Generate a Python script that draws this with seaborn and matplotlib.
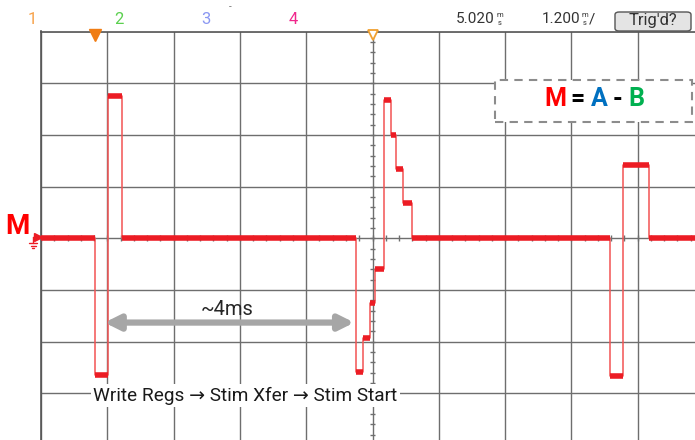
import matplotlib
matplotlib.use("Agg")
import matplotlib.pyplot as plt
import matplotlib.patches as mpatches
import matplotlib.transforms as mtransforms
from matplotlib.lines import Line2D
import seaborn as sns
import pandas as pd

# scope settings
delay_ms = 5.020
ms_per_div = 1.200
n_xdiv, n_ydiv = 10, 8

# trace M = A - B : level (in divisions) held from each time to the next
step_times = [-0.98, 0.00, 0.24, 0.48, 4.73, 4.84, 4.97, 5.07, 5.22, 5.36, 5.45,
              5.58, 5.73, 9.32, 9.55, 10.03, 11.02]
step_levels = [0, -2.65, 2.76, 0, -2.59, -1.92, -1.26, -0.60, 2.67, 1.99, 1.35,
               0.68, 0, -2.67, 1.41, 0, 0]

channel_labels = ["1", "2", "3", "4"]
channel_colors = ["#f7a24a", "#5bd04f", "#8a97f2", "#f0288c"]

span_start, span_end, span_level = 0.17, 4.69, -1.63
span_label = "~4ms"
sequence_label = "Write Regs \u2192 Stim Xfer \u2192 Stim Start"

red = "#ec1c24"
grid_col = "#6e6e6e"
W, H = 695, 440

sns.set_style("white")
plt.rcParams["font.family"] = ["Roboto", "DejaVu Sans"]

fig = plt.figure(figsize=(W / 100, H / 100), dpi=100)

def fx(px):
    return px / W

def fy(py):
    return 1 - py / H

# screen: left edge at 41px, top at 31.5px, 66.3px/div wide, 51.7px/div tall (cropped right/bottom)
ax = fig.add_axes([fx(41), fy(31.5 + n_ydiv * 51.7), n_xdiv * 66.3 / W, n_ydiv * 51.7 / H])
x0 = delay_ms - ms_per_div * n_xdiv / 2
x1 = delay_ms + ms_per_div * n_xdiv / 2
ax.set_xlim(x0, x1)
ax.set_ylim(-n_ydiv / 2, n_ydiv / 2)
ax.set_xticks([x0 + k * ms_per_div for k in range(n_xdiv + 1)])
ax.set_yticks(range(-n_ydiv // 2, n_ydiv // 2 + 1))
ax.grid(True, color=grid_col, lw=1.0)
ax.tick_params(length=0, labelbottom=False, labelleft=False)
for side in ["right", "bottom"]:
    ax.spines[side].set_visible(False)
for side in ["left", "top"]:
    ax.spines[side].set_color("#555555")
    ax.spines[side].set_linewidth(1.2)

# minor ticks on the centre lines
minor_x = [x0 + k * ms_per_div / 5 for k in range(n_xdiv * 5 + 1)]
minor_y = [-n_ydiv / 2 + k * 0.2 for k in range(n_ydiv * 5 + 1)]
ax.vlines(minor_x, -0.06, 0.06, color=grid_col, lw=1.0)
ax.hlines(minor_y, delay_ms - 0.05, delay_ms + 0.05, color=grid_col, lw=1.0)

# trace: thin edges, thick held levels
df = pd.DataFrame({"t": step_times, "level": step_levels})
sns.lineplot(data=df, x="t", y="level", ax=ax, estimator=None, sort=False,
             drawstyle="steps-post", color="#f25454", lw=1.1, zorder=4)
ax.hlines(df["level"][:-1], df["t"][:-1], df["t"][1:], color=red, lw=4.0, zorder=5)

# ~4ms span arrow
ax.annotate("", xy=(span_start, span_level), xytext=(span_end, span_level),
            arrowprops=dict(arrowstyle="<|-|>", color="#a6a6a6", lw=4.5,
                            mutation_scale=22, shrinkA=0, shrinkB=0), zorder=6)
ax.text((span_start + span_end) / 2 - 0.05, span_level + 0.25, span_label,
        ha="center", va="center", fontsize=14.5, color="#262626", zorder=7)

# sequence caption
ax.text(2.72, -3.04, sequence_label, ha="center", va="center", fontsize=13.7,
        color="#1a1a1a", zorder=7,
        bbox=dict(boxstyle="square,pad=0.14", fc="white", ec="none"))

# trigger marker and delay marker on the top border
below = mtransforms.offset_copy(ax.transData, fig=fig, y=-3.5, units="dots")
ax.plot([0.0], [n_ydiv / 2], marker="v", ms=9, color="#f07d14", transform=below,
        clip_on=False, zorder=8)
ax.plot([delay_ms], [n_ydiv / 2], marker="v", ms=7, mfc="white", mec="#f0a030",
        mew=1.3, transform=below, clip_on=False, zorder=8)

# equation box
box = mpatches.Rectangle((fx(495), fy(122)), fx(692) - fx(495), fy(80) - fy(122),
                         transform=fig.transFigure, fc="white", ec="#8c8c8c",
                         lw=1.5, ls=(0, (4, 3)), zorder=10)
fig.add_artist(box)
for txt, col, px in [("M", "#ff0000", 555), ("=", "black", 577), ("A", "#0070c0", 599),
                     ("-", "black", 617), ("B", "#00b050", 636)]:
    fig.text(fx(px), fy(99.5), txt, ha="center", va="center", fontsize=18,
             fontweight="bold", color=col, zorder=11)

# channel label and ground symbol
fig.text(fx(17), fy(227), "M", ha="center", va="center", fontsize=20,
         fontweight="bold", color="#ff0000")
gnd = [([33, 39], [237, 237]), ([33, 33], [237, 243]), ([29, 37], [243, 243]),
       ([30.5, 35.5], [245.5, 245.5]), ([32, 34], [248, 248])]
for xs, ys in gnd:
    fig.add_artist(Line2D([fx(v) for v in xs], [fy(v) for v in ys], color=red, lw=1.0))
fig.add_artist(Line2D([fx(38)], [fy(237)], marker=">", ms=6, color=red))

# header
for lab, col, px in zip(channel_labels, channel_colors, [32, 119, 206, 293]):
    fig.text(fx(px), fy(19), lab, ha="center", va="center", fontsize=12, color=col)
fig.text(fx(230), fy(7), "-", ha="center", va="center", fontsize=7, color="#777777")
for val, px in [("5.020", 495), ("1.200", 580)]:
    fig.text(fx(px), fy(19), val, ha="right", va="center", fontsize=11, color="#333333")
    fig.text(fx(px + 4.5), fy(15), "m", ha="center", va="center", fontsize=5.5, color="#333333")
    fig.text(fx(px + 4.5), fy(23), "s", ha="center", va="center", fontsize=5.5, color="#333333")
fig.text(fx(592), fy(19), "/", ha="center", va="center", fontsize=11, color="#333333")

trig = mpatches.FancyBboxPatch((fx(615), fy(31)), fx(691) - fx(615), fy(12) - fy(31),
                               boxstyle="round,pad=0,rounding_size=0.006",
                               transform=fig.transFigure, fc="#e4e4e4", ec="#555555", lw=1.0)
fig.add_artist(trig)
fig.text(fx(653), fy(20.5), "Trig'd?", ha="center", va="center", fontsize=12, color="#333333")

fig.savefig("out.png", dpi=100)
